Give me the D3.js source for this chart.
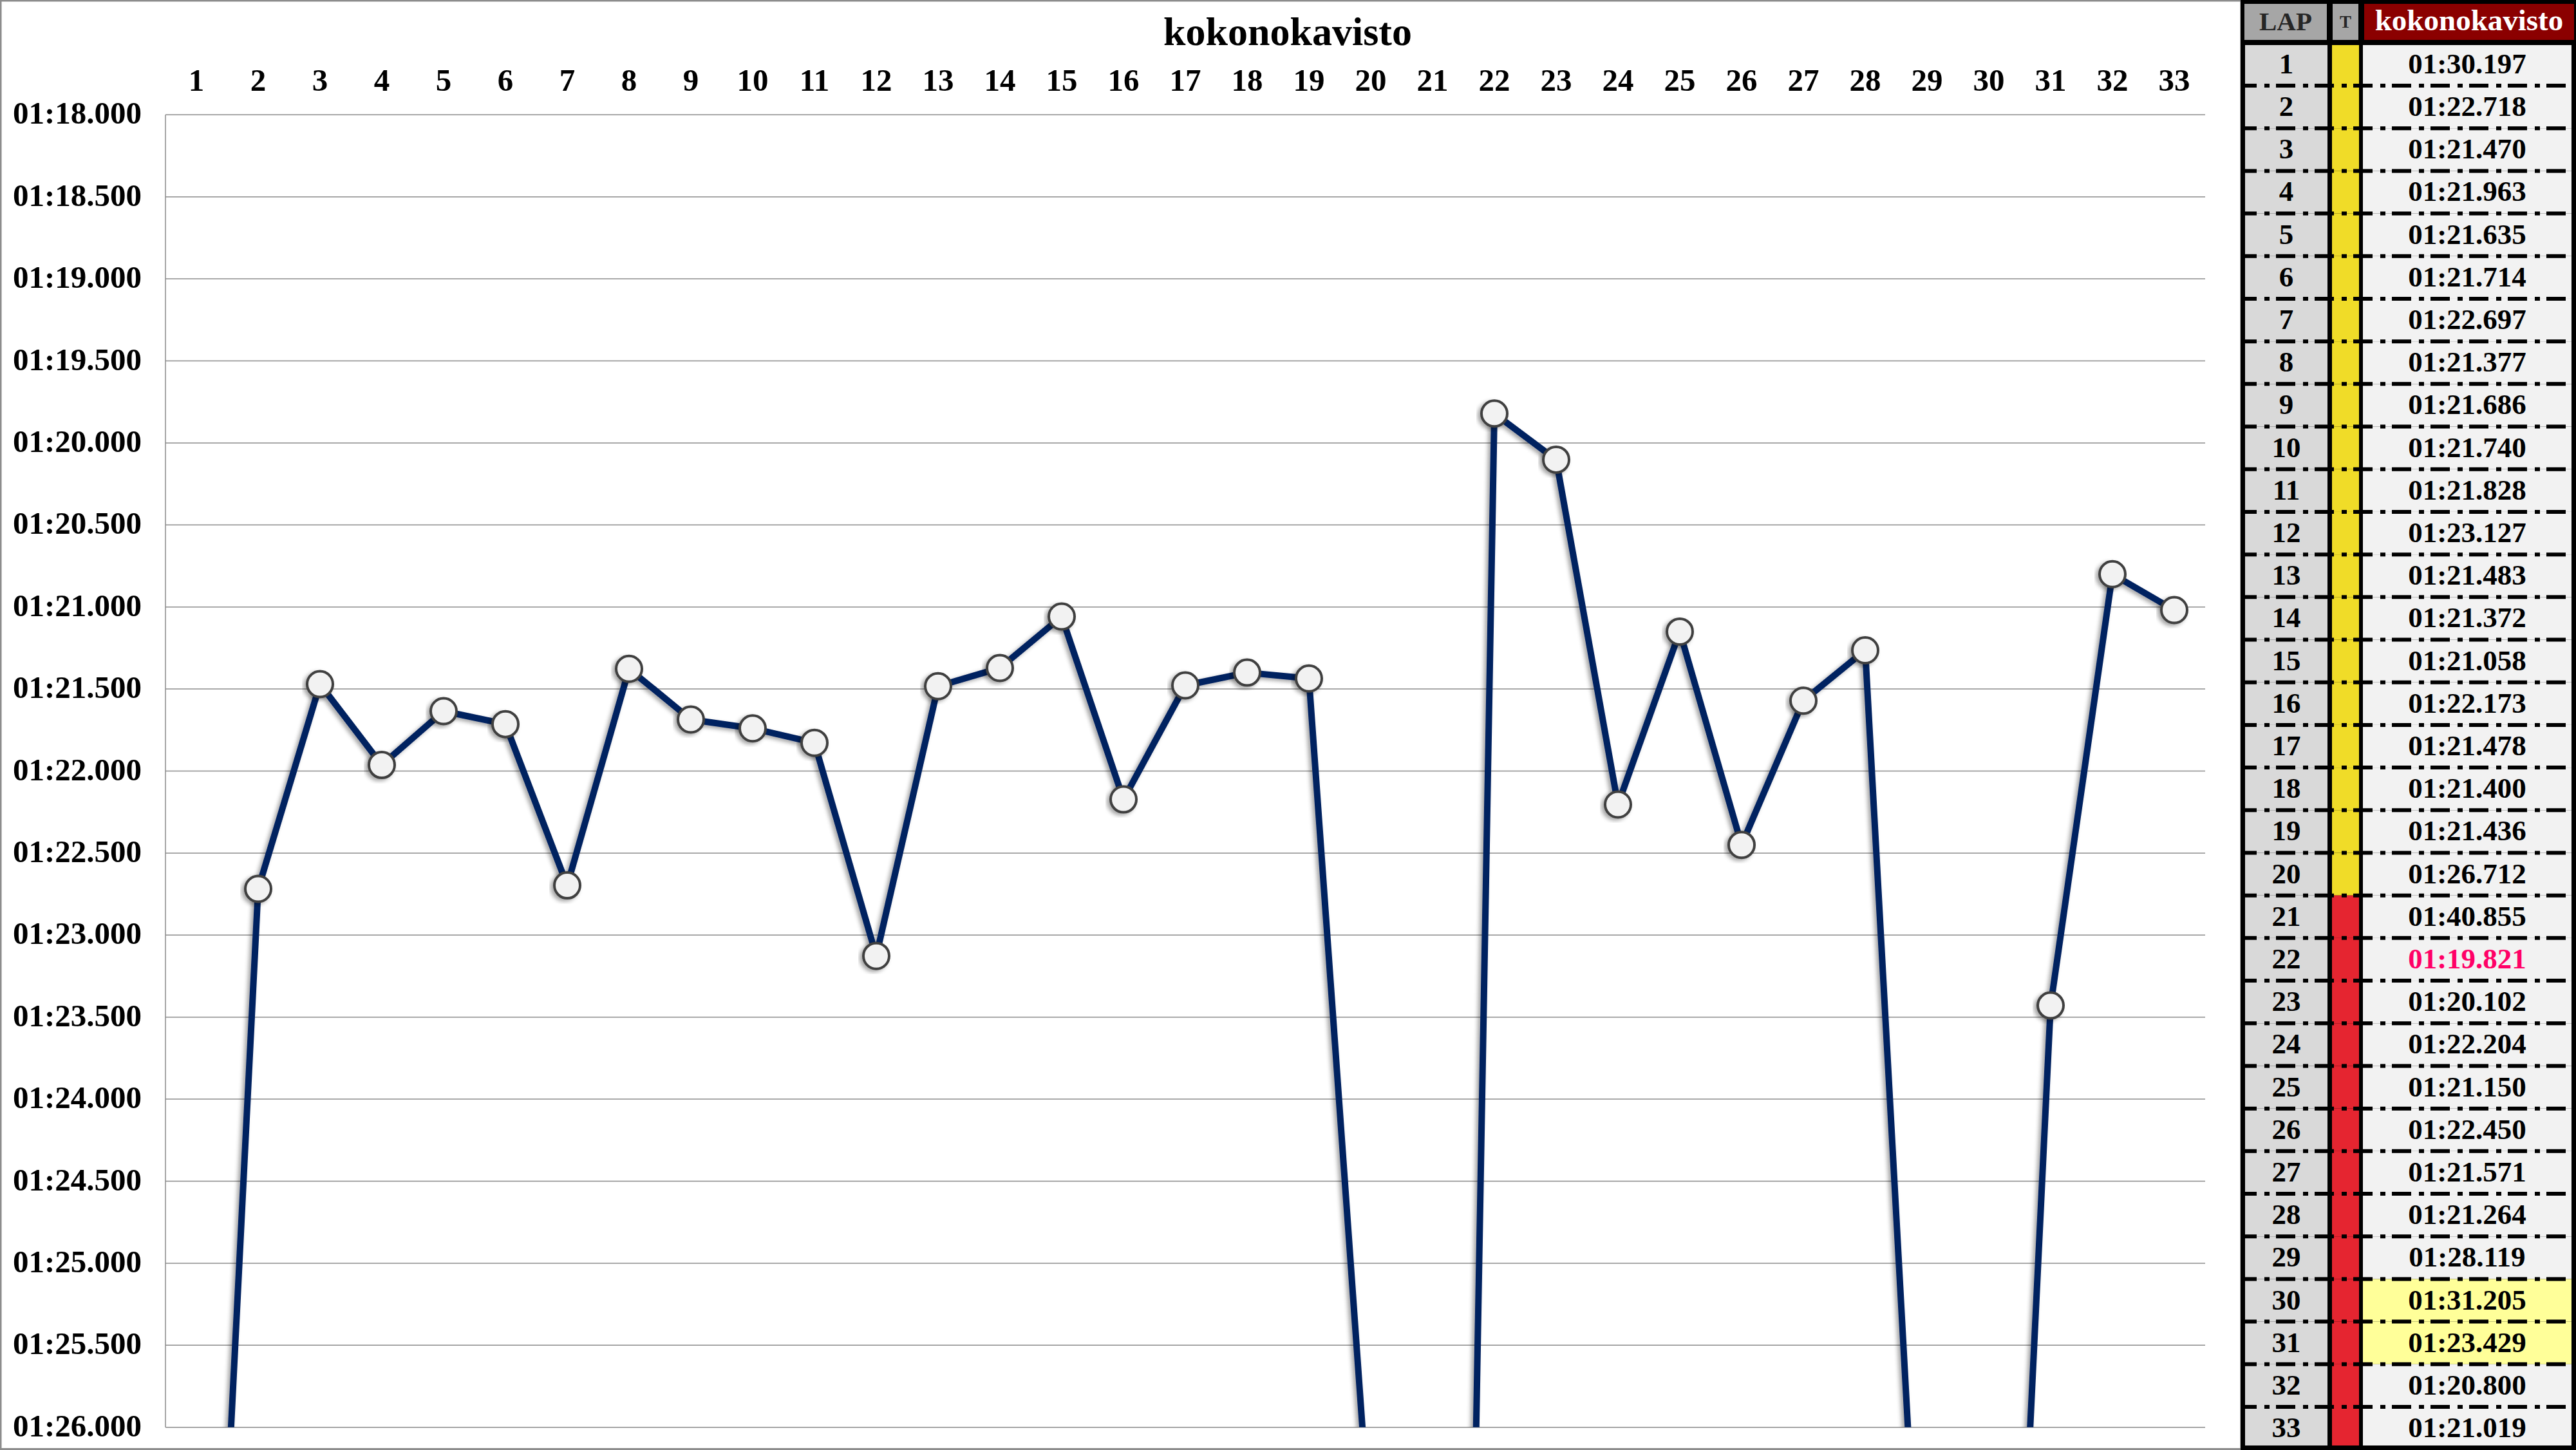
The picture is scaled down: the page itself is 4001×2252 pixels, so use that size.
<!DOCTYPE html>
<html>
<head>
<meta charset="utf-8">
<script src="https://cdn.jsdelivr.net/npm/d3@7"></script>
<style>
  html, body { margin: 0; padding: 0; background: #ffffff; }
  svg { display: block; }
  text { font-family: "Liberation Serif", "Times New Roman", serif; font-weight: bold; }
</style>
</head>
<body>
<svg id="chart" width="4001" height="2252"></svg>
<script>
// ---------------- DATA ----------------
const driverName = "kokonokavisto";
const laps = [1,2,3,4,5,6,7,8,9,10,11,12,13,14,15,16,17,18,19,20,21,22,23,24,25,26,27,28,29,30,31,32,33];
const lapTimes = ["01:30.197","01:22.718","01:21.470","01:21.963","01:21.635","01:21.714","01:22.697",
  "01:21.377","01:21.686","01:21.740","01:21.828","01:23.127","01:21.483","01:21.372","01:21.058",
  "01:22.173","01:21.478","01:21.400","01:21.436","01:26.712","01:40.855","01:19.821","01:20.102",
  "01:22.204","01:21.150","01:22.450","01:21.571","01:21.264","01:28.119","01:31.205","01:23.429",
  "01:20.800","01:21.019"];
// tyre / stint code for the "T" column (Y = yellow, R = red)
const tyres = ["Y","Y","Y","Y","Y","Y","Y","Y","Y","Y","Y","Y","Y","Y","Y","Y","Y","Y","Y","Y",
  "R","R","R","R","R","R","R","R","R","R","R","R","R"];
const highlightedLaps = [30, 31];
const bestLap = 22;
const yTickLabels = ["01:18.000","01:18.500","01:19.000","01:19.500","01:20.000","01:20.500",
  "01:21.000","01:21.500","01:22.000","01:22.500","01:23.000","01:23.500","01:24.000",
  "01:24.500","01:25.000","01:25.500","01:26.000"];

// ---------------- HELPERS ----------------
function toSeconds(s) {
  const [m, rest] = s.split(":");
  return (+m) * 60 + (+rest);
}
const seconds = lapTimes.map(toSeconds);
const yTicks = yTickLabels.map(toSeconds);

const svg = d3.select("#chart");
const W = 4001, H = 2252;

// defs: clip + shadow
const defs = svg.append("defs");
const plot = { left: 257, right: 3425, top: 178.3, bottom: 2216.7 };
defs.append("clipPath").attr("id", "plotClip")
  .append("rect")
  .attr("x", plot.left).attr("y", plot.top - 40)
  .attr("width", plot.right - plot.left).attr("height", plot.bottom - plot.top + 40);
const f = defs.append("filter").attr("id", "shadow")
  .attr("x", "-20%").attr("y", "-20%").attr("width", "140%").attr("height", "140%");
f.append("feDropShadow").attr("dx", -4).attr("dy", 3).attr("stdDeviation", 3)
  .attr("flood-color", "#000").attr("flood-opacity", 0.35);

// background
svg.append("rect").attr("width", W).attr("height", H).attr("fill", "#ffffff");

// outer chart border (gray)
svg.append("rect")
  .attr("x", 1).attr("y", 1).attr("width", 3480).attr("height", H - 2.5)
  .attr("fill", "none").attr("stroke", "#8c8c8c").attr("stroke-width", 3);

// ---------------- SCALES ----------------
const x = d3.scaleBand().domain(laps).range([plot.left, plot.right]).padding(0);
const y = d3.scaleLinear().domain([d3.min(yTicks), d3.max(yTicks)]).range([plot.top, plot.bottom]);
const cx = d => x(d) + x.bandwidth() / 2;

// gridlines
svg.append("g").selectAll("line").data(yTicks).join("line")
  .attr("x1", plot.left).attr("x2", plot.right)
  .attr("y1", d => y(d)).attr("y2", d => y(d))
  .attr("stroke", "#8c8c8c").attr("stroke-width", 1.5);
// left axis line
svg.append("line")
  .attr("x1", plot.left).attr("x2", plot.left)
  .attr("y1", plot.top).attr("y2", plot.bottom)
  .attr("stroke", "#8c8c8c").attr("stroke-width", 1.5);

// y axis labels
svg.append("g").selectAll("text").data(yTicks).join("text")
  .attr("x", 220).attr("y", d => y(d) + 14)
  .attr("text-anchor", "end")
  .attr("font-size", 49).attr("fill", "#000")
  .text((d, i) => yTickLabels[i]);

// x axis labels (top)
svg.append("g").selectAll("text").data(laps).join("text")
  .attr("x", d => cx(d)).attr("y", 141)
  .attr("text-anchor", "middle")
  .attr("font-size", 49).attr("fill", "#000")
  .text(d => d);

// title
svg.append("text")
  .attr("x", 2000).attr("y", 70)
  .attr("text-anchor", "middle")
  .attr("font-size", 62).attr("fill", "#000")
  .text(driverName);

// ---------------- LINE + MARKERS ----------------
const pts = laps.map((l, i) => ({ lap: l, v: seconds[i] }));
const line = d3.line().x(d => cx(d.lap)).y(d => y(d.v));
svg.append("g").attr("clip-path", "url(#plotClip)")
  .append("path")
  .datum(pts)
  .attr("d", line)
  .attr("fill", "none")
  .attr("stroke", "#002060")
  .attr("stroke-width", 10)
  .attr("stroke-linejoin", "round")
  .attr("filter", "url(#shadow)");

const yDom = y.domain();
svg.append("g").selectAll("circle")
  .data(pts.filter(d => d.v >= yDom[0] && d.v <= yDom[1]))
  .join("circle")
  .attr("cx", d => cx(d.lap)).attr("cy", d => y(d.v))
  .attr("r", 20)
  .attr("fill", "#f2f2f2")
  .attr("stroke", "#404040")
  .attr("stroke-width", 4)
  .attr("filter", "url(#shadow)");

// ---------------- TABLE ----------------
const T = { left: 3480, right: 4001 };
const col = {
  lap: [3487, 3615],
  t: [3622, 3664],
  val: [3670, 3994]
};
const bodyTop = 66.8, bodyBottom = 2251.2;
const rowY = d3.scaleBand().domain(laps).range([bodyTop, bodyBottom]).padding(0);
const rh = rowY.bandwidth();

const tbl = svg.append("g");
tbl.append("rect").attr("x", T.left).attr("y", 0)
  .attr("width", T.right - T.left).attr("height", H).attr("fill", "#000");

// header
tbl.append("rect").attr("x", 3486).attr("y", 6).attr("width", 128).attr("height", 56).attr("fill", "#a6a6a6");
tbl.append("rect").attr("x", 3623).attr("y", 6).attr("width", 40).attr("height", 56).attr("fill", "#a6a6a6");
tbl.append("rect").attr("x", 3672).attr("y", 6).attr("width", 326).attr("height", 56).attr("fill", "#8b0000");
tbl.append("text").attr("x", 3550).attr("y", 47).attr("text-anchor", "middle")
  .attr("font-size", 41).attr("fill", "#262626").text("LAP");
tbl.append("text").attr("x", 3643).attr("y", 43).attr("text-anchor", "middle")
  .attr("font-size", 27).attr("fill", "#262626").text("T");
tbl.append("text").attr("x", 3835).attr("y", 47).attr("text-anchor", "middle")
  .attr("font-size", 47).attr("fill", "#ffffff").text(driverName);

const cellTop = d => Math.max(rowY(d), 70);
const cellBot = d => Math.min(rowY(d) + rh, 2245);

const rows = tbl.append("g").selectAll("g").data(laps).join("g");
rows.append("rect")
  .attr("x", col.lap[0]).attr("width", col.lap[1] - col.lap[0])
  .attr("y", cellTop).attr("height", d => cellBot(d) - cellTop(d))
  .attr("fill", "#d9d9d9");
rows.append("rect")
  .attr("x", col.t[0]).attr("width", col.t[1] - col.t[0])
  .attr("y", cellTop).attr("height", d => cellBot(d) - cellTop(d))
  .attr("fill", (d, i) => tyres[i] === "Y" ? "#f0dc28" : "#e52530");
rows.append("rect")
  .attr("x", col.val[0]).attr("width", col.val[1] - col.val[0])
  .attr("y", cellTop).attr("height", d => cellBot(d) - cellTop(d))
  .attr("fill", d => highlightedLaps.includes(d) ? "#ffff99" : "#f2f2f2");
rows.append("text")
  .attr("x", (col.lap[0] + col.lap[1]) / 2)
  .attr("y", d => rowY(d) + rh / 2 + 14)
  .attr("text-anchor", "middle").attr("font-size", 45).attr("fill", "#000")
  .text(d => d);
rows.append("text")
  .attr("x", (col.val[0] + col.val[1]) / 2)
  .attr("y", d => rowY(d) + rh / 2 + 14)
  .attr("text-anchor", "middle").attr("font-size", 45)
  .attr("fill", d => d === bestLap ? "#ff0066" : "#000")
  .text((d, i) => lapTimes[i]);

// dash-dot separators
tbl.append("g").selectAll("line").data(laps.slice(1)).join("line")
  .attr("x1", T.left).attr("x2", T.right)
  .attr("y1", d => rowY(d)).attr("y2", d => rowY(d))
  .attr("stroke", "#000").attr("stroke-width", 6)
  .attr("stroke-dasharray", "30,12,8,10")
  .attr("stroke-dashoffset", 5);
</script>
</body>
</html>
